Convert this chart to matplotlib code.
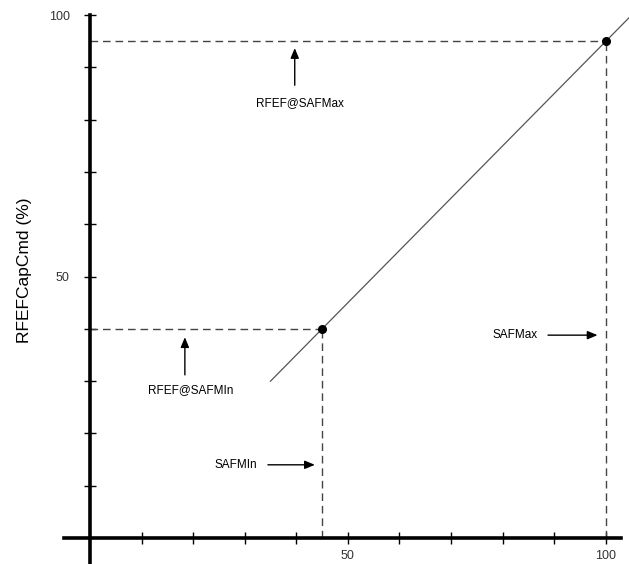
import matplotlib.pyplot as plt
import numpy as np

plt.rcParams["font.family"] = ["Liberation Sans", "DejaVu Sans"]

# characteristic: RFEF capacity command vs SAF
saf_min, saf_max = 45, 100
rfef_at_min, rfef_at_max = 40, 95
line_x = [35, 105]

x_ticks = list(range(10, 101, 10))
y_ticks = list(range(10, 101, 10))
x_labels = {50: "50", 100: "100"}
y_labels = {50: "50", 100: "100"}

slope = (rfef_at_max - rfef_at_min) / (saf_max - saf_min)
line_y = [rfef_at_min + slope * (v - saf_min) for v in line_x]

fig = plt.figure(figsize=(6.29, 5.64), dpi=100)
ax = fig.add_axes([0, 0, 1, 1])
ax.set_xlim(-17.44, 104.5)
ax.set_ylim(-4.97, 102.9)

for side in ("top", "right"):
    ax.spines[side].set_visible(False)
ax.spines["left"].set_position(("data", 0))
ax.spines["bottom"].set_position(("data", 0))
ax.spines["left"].set_bounds(-5, 100)
ax.spines["bottom"].set_bounds(-5, 103)
ax.spines["left"].set_linewidth(2.6)
ax.spines["bottom"].set_linewidth(2.6)

ax.set_xticks(x_ticks)
ax.set_xticklabels([x_labels.get(t, "") for t in x_ticks])
ax.set_yticks(y_ticks)
ax.set_yticklabels([y_labels.get(t, "") for t in y_ticks])
ax.tick_params(direction="inout", length=9, width=1, labelsize=9,
               labelcolor="#333333", pad=4)
ax.tick_params(axis="y", pad=10)

ax.text(-12.6, 51.3, "RFEFCapCmd (%)", rotation=90, ha="center", va="center",
        fontsize=12.5)

dash = dict(color="#444444", linewidth=1.0, linestyle=(0, (5.5, 3.5)))
ax.plot([0, saf_max], [rfef_at_max, rfef_at_max], **dash)
ax.plot([saf_max, saf_max], [0, rfef_at_max], **dash)
ax.plot([0, saf_min], [rfef_at_min, rfef_at_min], **dash)
ax.plot([saf_min, saf_min], [0, rfef_at_min], **dash)

ax.plot(line_x, line_y, color="#555555", linewidth=0.9, clip_on=True)
ax.plot([saf_min, saf_max], [rfef_at_min, rfef_at_max], "o", color="black",
        markersize=5.5)

arrow = dict(arrowstyle="-|>,head_length=0.6,head_width=0.25", color="black",
             linewidth=1.0, shrinkA=0, shrinkB=0)
ax.annotate("", xy=(39.7, 93.7), xytext=(39.7, 86.6), arrowprops=arrow)
ax.text(40.8, 84.3, "RFEF@SAFMax", ha="center", va="top", fontsize=8.5)
ax.annotate("", xy=(18.4, 38.4), xytext=(18.4, 31.2), arrowprops=arrow)
ax.text(19.5, 29.4, "RFEF@SAFMIn", ha="center", va="top", fontsize=8.5)
ax.annotate("", xy=(98.4, 38.8), xytext=(88.8, 38.8), arrowprops=arrow)
ax.text(82.5, 38.8, "SAFMax", ha="center", va="center", fontsize=8.5)
ax.annotate("", xy=(43.6, 14), xytext=(34.5, 14), arrowprops=arrow)
ax.text(28.2, 14, "SAFMIn", ha="center", va="center", fontsize=8.5)

fig.savefig("out.png", dpi=100)
